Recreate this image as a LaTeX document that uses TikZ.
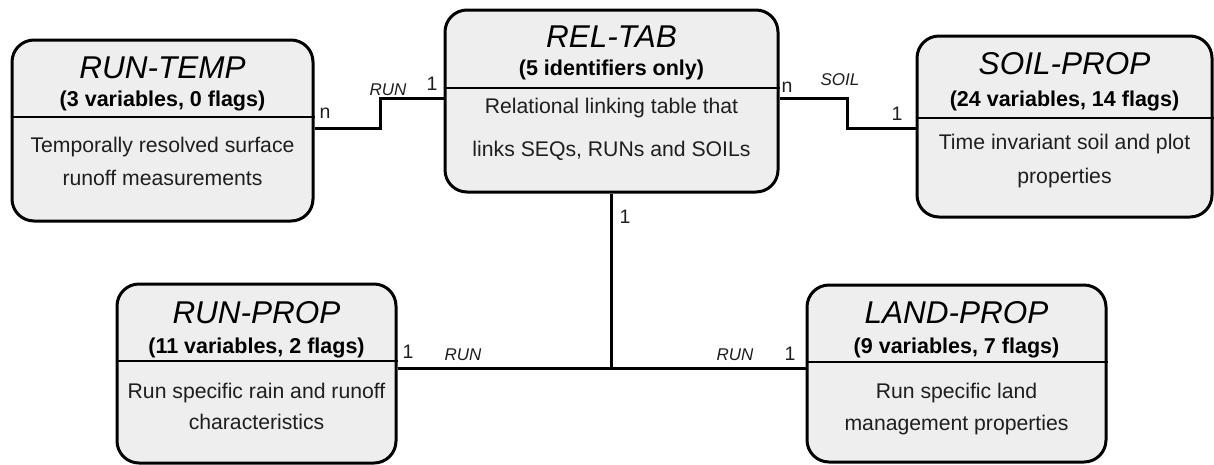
\documentclass[tikz,border=0pt]{standalone}
\usepackage{fontspec}
\setmainfont{Liberation Sans}
\begin{document}
\begin{tikzpicture}[x=1pt,y=-1pt]
\definecolor{boxgray}{HTML}{EEEEEE}
\definecolor{txtgray}{HTML}{1E1E1E}
\tikzset{
  tbl/.style={draw=black, line width=3pt, rounded corners=22pt, fill=boxgray, inner sep=0pt},
  divline/.style={draw=black, line width=2.8pt},
  conn/.style={draw=black, line width=3pt},
  ttl/.style={anchor=base, inner sep=0pt, font=\fontsize{31.5}{31.5}\selectfont\itshape},
  sub/.style={anchor=base, inner sep=0pt, font=\fontsize{21.5}{21.5}\selectfont\bfseries},
  body/.style={anchor=base, inner sep=0pt, text=txtgray, font=\fontsize{21.2}{21.2}\selectfont},
  rlab/.style={anchor=base, inner sep=0pt, text=txtgray, font=\fontsize{17}{17}\selectfont\itshape},
  card/.style={anchor=base, inner sep=0pt, text=txtgray, font=\fontsize{19.5}{19.5}\selectfont}
}
\useasboundingbox (0,0) rectangle (1214,464);

% boxes
\node[tbl, minimum width=301pt, minimum height=181pt] (rt) at (162.5,130.5) {};
\node[tbl, minimum width=333pt, minimum height=182pt] (rel) at (611.5,101) {};
\node[tbl, minimum width=295pt, minimum height=181pt] (sp) at (1064.5,126.5) {};
\node[tbl, minimum width=279pt, minimum height=179pt] (rp) at (256.5,373.5) {};
\node[tbl, minimum width=299pt, minimum height=177pt] (lp) at (956.5,373.5) {};

% dividers
\draw[divline] (rt.west |- 0,117) -- (rt.east |- 0,117);
\draw[divline] (rel.west |- 0,88) -- (rel.east |- 0,88);
\draw[divline] (sp.west |- 0,118) -- (sp.east |- 0,118);
\draw[divline] (rp.west |- 0,361) -- (rp.east |- 0,361);
\draw[divline] (lp.west |- 0,362) -- (lp.east |- 0,362);

% texts RUN-TEMP
\node[ttl] (rtT) at (162.5,78) {RUN-TEMP};
\node[sub] (rtS) at (162.5,106) {(3 variables, 0 flags)};
\node[body] (rtB1) at (162.5,152) {Temporally resolved surface};
\node[body] (rtB2) at (162.5,185) {runoff measurements};

% REL-TAB
\node[ttl] (relT) at (611.5,47) {REL-TAB};
\node[sub] (relS) at (611.5,75) {(5 identifiers only)};
\node[body] (relB1) at (611.5,113) {Relational linking table that};
\node[body] (relB2) at (611.5,156) {links SEQs, RUNs and SOILs};

% SOIL-PROP
\node[ttl] (spT) at (1064.5,74) {SOIL-PROP};
\node[sub] (spS) at (1064.5,106) {(24 variables, 14 flags)};
\node[body] (spB1) at (1064.5,149) {Time invariant soil and plot};
\node[body] (spB2) at (1064.5,183) {properties};

% RUN-PROP
\node[ttl] (rpT) at (256.5,323) {RUN-PROP};
\node[sub] (rpS) at (256.5,353) {(11 variables, 2 flags)};
\node[body] (rpB1) at (256.5,398) {Run specific rain and runoff};
\node[body] (rpB2) at (256.5,429) {characteristics};

% LAND-PROP
\node[ttl] (lpT) at (956.5,323) {LAND-PROP};
\node[sub] (lpS) at (956.5,353) {(9 variables, 7 flags)};
\node[body] (lpB1) at (956.5,398) {Run specific land};
\node[body] (lpB2) at (956.5,430) {management properties};

% connectors
\coordinate (j1) at (380,128);
\coordinate (j2) at (380,98);
\coordinate (k1) at (847,98);
\coordinate (k2) at (847,128);
\coordinate (jb) at (611.5,368);
\draw[conn] (rt.east |- j1) -- (j1) -- (j2) -- (rel.west |- j2);
\draw[conn] (rel.east |- k1) -- (k1) -- (k2) -- (sp.west |- k2);
\draw[conn] (rel.south) -- (jb);
\draw[conn] (rp.east |- jb) -- (lp.west |- jb);

% labels
\node[card] (l1) at (325,118) {n};
\node[rlab] (l2) at (388,95) {RUN};
\node[card] (l3) at (432,90) {1};
\node[card] (l4) at (787,92) {n};
\node[rlab] (l5) at (840,85) {SOIL};
\node[card] (l6) at (897,120) {1};
\node[card] (l7) at (625,223) {1};
\node[card] (l8) at (408,358) {1};
\node[rlab] (l9) at (463,360) {RUN};
\node[rlab] (l10) at (735,360) {RUN};
\node[card] (l11) at (790,360) {1};
\end{tikzpicture}
\end{document}
